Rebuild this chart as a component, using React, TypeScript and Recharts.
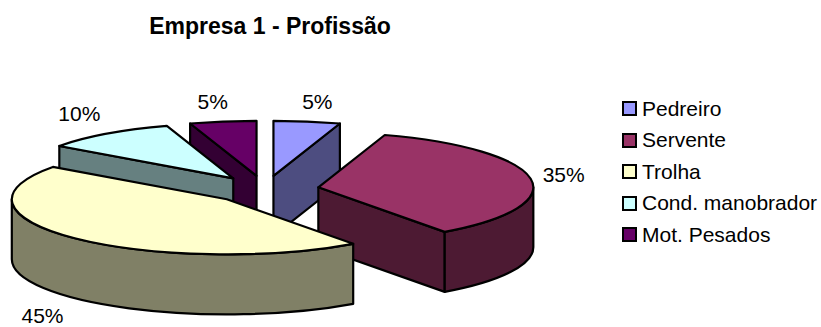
import React from 'react';
import { PieChart, Pie, Legend } from 'recharts';

const categories = ['Pedreiro', 'Servente', 'Trolha', 'Cond. manobrador', 'Mot. Pesados'];
const shares = [5, 35, 45, 10, 5];
const topColors = ['#9999FF', '#993366', '#FFFFCC', '#CCFFFF', '#660066'];
const sideColors = ['#4D4D80', '#4D1A33', '#808066', '#668080', '#330033'];
// back slices first, so nearer ones paint over them
const drawOrder = ['Pedreiro', 'Mot. Pesados', 'Cond. manobrador', 'Servente', 'Trolha'];

const slices = categories.map((name, i) => ({ name, value: shares[i] }));

const FONT = '"Liberation Sans", Arial, sans-serif';
const RADIUS = 215;
const TILT = 0.256; // vertical squash of the pie ellipse
const DEPTH = 60;
const EXPLODE = 54;
const rad = (deg: number) => (deg * Math.PI) / 180;

// point on the ellipse, clock angle measured from 12 o'clock
const onRim = (x: number, y: number, clock: number) => ({
  x: x + RADIUS * Math.sin(rad(clock)),
  y: y - RADIUS * TILT * Math.cos(rad(clock)),
});

const sliceCenter = (cx: number, cy: number, mid: number) => ({
  x: cx + EXPLODE * Math.sin(rad(mid)),
  y: cy - EXPLODE * TILT * Math.cos(rad(mid)),
});

const Slice3D = (props: any, only: string) => {
  if (props.name !== only) return <g />;
  const from = 90 - props.startAngle;
  const to = 90 - props.endAngle;
  const c = sliceCenter(props.cx, props.cy, (from + to) / 2);
  const i = categories.indexOf(only);
  const a = onRim(c.x, c.y, from);
  const b = onRim(c.x, c.y, to);
  const rx = RADIUS;
  const ry = RADIUS * TILT;
  const line = { stroke: '#000', strokeWidth: 2.2, strokeLinejoin: 'round' as const };

  const wall = (p: { x: number; y: number }) =>
    `M${c.x},${c.y} L${p.x},${p.y} L${p.x},${p.y + DEPTH} L${c.x},${c.y + DEPTH} Z`;

  // only the part of the rim facing the viewer gets an outer wall
  const wallFrom = Math.max(from, 90);
  const wallTo = Math.min(to, 270);
  let rim = null;
  if (wallTo > wallFrom) {
    const p = onRim(c.x, c.y, wallFrom);
    const q = onRim(c.x, c.y, wallTo);
    rim = `M${p.x},${p.y} A${rx},${ry} 0 0 1 ${q.x},${q.y} L${q.x},${q.y + DEPTH} A${rx},${ry} 0 0 0 ${p.x},${p.y + DEPTH} Z`;
  }

  return (
    <g>
      {Math.sin(rad(from)) < 0 && <path d={wall(a)} fill={sideColors[i]} {...line} />}
      {Math.sin(rad(to)) > 0 && <path d={wall(b)} fill={sideColors[i]} {...line} />}
      {rim && <path d={rim} fill={sideColors[i]} {...line} />}
      <path
        d={`M${c.x},${c.y} L${a.x},${a.y} A${rx},${ry} 0 ${to - from > 180 ? 1 : 0} 1 ${b.x},${b.y} Z`}
        fill={topColors[i]}
        {...line}
      />
    </g>
  );
};

const percentLabel = (props: any) => {
  const mid = 90 - props.midAngle;
  const c = sliceCenter(props.cx, props.cy, mid);
  const rimPoint = onRim(c.x, c.y, mid);
  const s = Math.sin(rad(mid));
  const co = Math.cos(rad(mid));
  const x = rimPoint.x + Math.sign(s) * Math.min(33, 4 + 40 * Math.abs(s));
  const y = rimPoint.y - 20 * Math.sign(co) * Math.min(1, 1.25 * Math.abs(co)) + (co < 0 ? DEPTH : 0);
  return (
    <text
      key={props.name}
      x={x}
      y={y}
      textAnchor="middle"
      dominantBaseline="central"
      fontFamily={FONT}
      fontSize={21}
      fill="#000"
    >
      {`${Math.round(props.percent * 100)}%`}
    </text>
  );
};

const LegendList = () => (
  <div style={{ fontFamily: FONT, fontSize: 21, color: '#000' }}>
    {categories.map((name, i) => (
      <div key={name} style={{ display: 'flex', alignItems: 'center', height: 31.5, whiteSpace: 'nowrap' }}>
        <span
          style={{
            width: 11,
            height: 11,
            border: '2px solid #000',
            background: topColors[i],
            marginRight: 5,
            flex: 'none',
          }}
        />
        {name}
      </div>
    ))}
  </div>
);

export default function App() {
  return (
    <div style={{ position: 'absolute', left: 0, top: 0, width: 821, height: 327, background: '#fff' }}>
      <div
        style={{
          position: 'absolute',
          left: 0,
          width: 540,
          top: 13,
          textAlign: 'center',
          fontFamily: FONT,
          fontWeight: 'bold',
          fontSize: 23,
          lineHeight: '27px',
          color: '#000',
        }}
      >
        Empresa 1 - Profissão
      </div>
      <PieChart width={821} height={327} margin={{ top: 0, right: 0, bottom: 0, left: 0 }}>
        {drawOrder.map((name, n) => (
          <Pie
            key={name}
            data={slices}
            dataKey="value"
            nameKey="name"
            cx={265}
            cy={189.5}
            outerRadius={RADIUS}
            startAngle={90}
            endAngle={-270}
            stroke="none"
            isAnimationActive={false}
            legendType="none"
            labelLine={false}
            label={n === drawOrder.length - 1 ? percentLabel : false}
            shape={(p: any) => Slice3D(p, name)}
          />
        ))}
        <Legend
          content={LegendList}
          wrapperStyle={{ position: 'absolute', left: 622, top: 93, width: 199, bottom: 'auto' }}
        />
      </PieChart>
    </div>
  );
}
